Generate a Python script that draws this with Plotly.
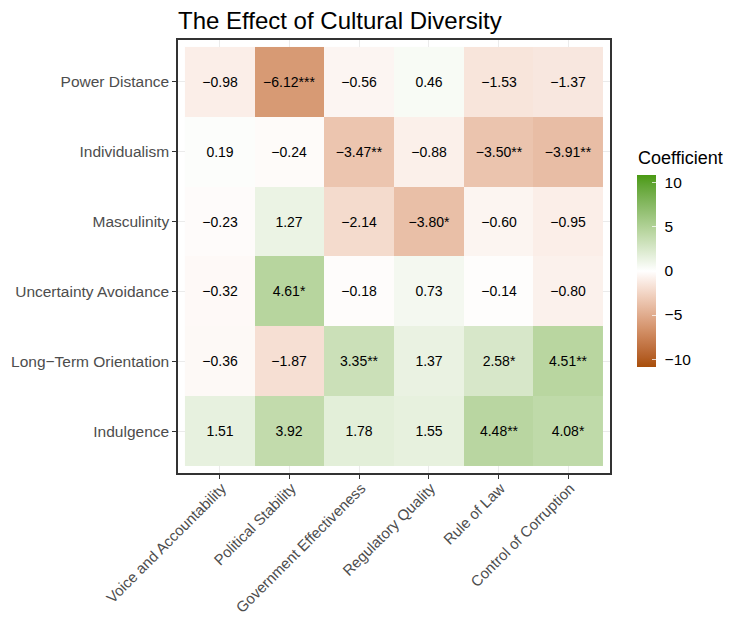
import plotly.graph_objects as go
import numpy as np

title = "The Effect of Cultural Diversity"
governance = ["Voice and Accountability", "Political Stability", "Government Effectiveness",
              "Regulatory Quality", "Rule of Law", "Control of Corruption"]
culture = ["Power Distance", "Individualism", "Masculinity", "Uncertainty Avoidance",
           "Long\u2212Term Orientation", "Indulgence"]

coef_power_distance = [-0.98, -6.12, -0.56, 0.46, -1.53, -1.37]
coef_individualism = [0.19, -0.24, -3.47, -0.88, -3.50, -3.91]
coef_masculinity = [-0.23, 1.27, -2.14, -3.80, -0.60, -0.95]
coef_uncertainty = [-0.32, 4.61, -0.18, 0.73, -0.14, -0.80]
coef_long_term = [-0.36, -1.87, 3.35, 1.37, 2.58, 4.51]
coef_indulgence = [1.51, 3.92, 1.78, 1.55, 4.48, 4.08]

stars_power_distance = ["", "***", "", "", "", ""]
stars_individualism = ["", "", "**", "", "**", "**"]
stars_masculinity = ["", "", "", "*", "", ""]
stars_uncertainty = ["", "*", "", "", "", ""]
stars_long_term = ["", "", "**", "", "*", "**"]
stars_indulgence = ["", "", "", "", "**", "*"]

legend_ticks = [-10, -5, 0, 5, 10]

z = [coef_power_distance, coef_individualism, coef_masculinity,
     coef_uncertainty, coef_long_term, coef_indulgence]
stars = [stars_power_distance, stars_individualism, stars_masculinity,
         stars_uncertainty, stars_long_term, stars_indulgence]

def fmt(v):
    s = f"{v:.2f}"
    return s.replace("-", "\u2212")

text = [[fmt(v) + s for v, s in zip(row, srow)] for row, srow in zip(z, stars)]

# Lab-space gradient like ggplot's scale_fill_gradient2
def hex2rgb(h):
    h = h.lstrip("#")
    return [int(h[i:i+2], 16) / 255 for i in (0, 2, 4)]

def srgb2lin(c):
    return np.where(c <= 0.04045, c / 12.92, ((c + 0.055) / 1.055) ** 2.4)

def lin2srgb(c):
    c = np.clip(c, 0, 1)
    return np.where(c <= 0.0031308, c * 12.92, 1.055 * c ** (1 / 2.4) - 0.055)

M = np.array([[0.4124, 0.3576, 0.1805], [0.2126, 0.7152, 0.0722], [0.0193, 0.1192, 0.9505]])
Minv = np.linalg.inv(M)
WP = np.array([0.95047, 1.0, 1.08883])

def f(t):
    d = 6 / 29
    return np.where(t > d ** 3, np.cbrt(t), t / (3 * d * d) + 4 / 29)

def finv(t):
    d = 6 / 29
    return np.where(t > d, t ** 3, 3 * d * d * (t - 4 / 29))

def rgb2lab(rgb):
    xyz = M @ srgb2lin(np.array(rgb)) / WP
    fx, fy, fz = f(xyz)
    return np.array([116 * fy - 16, 500 * (fx - fy), 200 * (fy - fz)])

def lab2rgb(lab):
    L, a, b = lab
    fy = (L + 16) / 116
    fx = fy + a / 500
    fz = fy - b / 200
    xyz = np.array([finv(fx), finv(fy), finv(fz)]) * WP
    return lin2srgb(Minv @ xyz)

low, mid, high = "#A84E0A", "#FFFFFF", "#4A9A12"
Llow, Lmid, Lhigh = rgb2lab(hex2rgb(low)), rgb2lab(hex2rgb(mid)), rgb2lab(hex2rgb(high))
cs = []
n = 20
for i in range(n + 1):
    t = i / n
    if t <= 0.5:
        u = t / 0.5
        lab = Llow * (1 - u) + Lmid * u
    else:
        u = (t - 0.5) / 0.5
        lab = Lmid * (1 - u) + Lhigh * u
    r, g, b = (lab2rgb(lab) * 255).round().astype(int)
    cs.append([t, f"rgb({r},{g},{b})"])

lim = 10.9

# the page places the figure 8px in from the window's corner; compensate
OFF = 8
W, H = 732, 617
L, R, T, B = 178 - OFF, W - 610 + OFF, 40 - OFF, H - 473 + OFF
PW, PH = W - L - R, H - T - B

def px_x(sx):
    return (sx - OFF - L) / PW

def px_y(sy):
    return (H - B - (sy - OFF)) / PH

cb_common = dict(
    x=px_x(637), xanchor="left", xpad=0, y=px_y(271), yanchor="middle", ypad=0,
    len=192, lenmode="pixels", thickness=19, thicknessmode="pixels",
    outlinewidth=0, tickvals=legend_ticks,
    ticktext=[str(v).replace("-", "\u2212") for v in legend_ticks],
)

fig = go.Figure()
# main heatmap with labelled colorbar
fig.add_trace(go.Heatmap(
    z=z, x=governance, y=culture, text=text, texttemplate="%{text}",
    textfont=dict(size=14, color="black", family="Liberation Sans, Arial, sans-serif"),
    coloraxis="coloraxis", hoverinfo="skip",
))
# invisible copy that only supplies the white inner tick marks of the colour bar
fig.add_trace(go.Heatmap(
    z=z, x=governance, y=culture, coloraxis="coloraxis2", opacity=0, hoverinfo="skip",
))

fig.update_layout(
    width=W, height=H,
    margin=dict(l=L, r=R, t=T, b=B, autoexpand=False),
    paper_bgcolor="white", plot_bgcolor="white",
    font=dict(family="Liberation Sans, Arial, sans-serif"),
    coloraxis=dict(
        colorscale=cs, cmin=-lim, cmax=lim,
        colorbar=dict(**cb_common, ticks="outside", ticklen=6, tickcolor="white",
                      tickfont=dict(size=15.5, color="black")),
    ),
    coloraxis2=dict(
        colorscale=cs, cmin=-lim, cmax=lim,
        colorbar=dict(**cb_common, ticks="inside", ticklen=4,
                      tickcolor="rgba(255,255,255,0.75)", tickwidth=1,
                      showticklabels=False),
    ),
    title=dict(text=title, x=(178 - OFF) / W, xanchor="left", y=1 - (21 - OFF) / H, yanchor="middle",
               font=dict(size=24, color="black")),
    annotations=[dict(text="Coefficient", xref="paper", yref="paper",
                      x=px_x(636), y=px_y(158), xanchor="left", yanchor="middle",
                      showarrow=False, font=dict(size=18, color="black"))],
)
fig.update_xaxes(
    type="category", range=[-0.6, 5.6], tickangle=-45, automargin=False,
    ticklabelstandoff=-5, ticklabelshift=2,
    showgrid=True, gridcolor="#ebebeb", gridwidth=1,
    ticks="outside", ticklen=4, tickcolor="#333333",
    tickfont=dict(size=15, color="#4d4d4d"),
    showline=True, linecolor="#333333", linewidth=1.5, mirror=True, zeroline=False,
)
fig.update_yaxes(
    type="category", range=[5.6, -0.6], automargin=False,
    showgrid=True, gridcolor="#ebebeb", gridwidth=1,
    ticks="outside", ticklen=4, tickcolor="#333333",
    tickfont=dict(size=15.5, color="#4d4d4d"),
    showline=True, linecolor="#333333", linewidth=1.5, mirror=True, zeroline=False,
)

fig.write_html("out.html")
